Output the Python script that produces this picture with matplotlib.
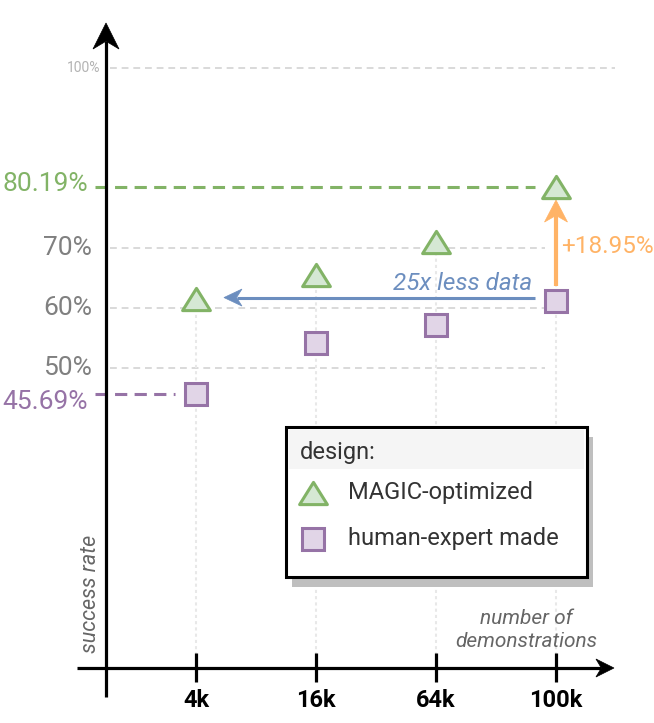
import matplotlib.pyplot as plt
import numpy as np
from matplotlib.patches import Polygon, Rectangle
from matplotlib.path import Path

plt.rcParams['font.family'] = ['Roboto', 'DejaVu Sans']

demos = ['4k', '16k', '64k', '100k']
magic = [61.5, 65.5, 71.0, 80.19]     # MAGIC-optimized
human = [45.69, 54.2, 57.2, 61.24]    # human-expert made
grid_levels = [50, 60, 70]
top_level = 100

GREEN, GREEN_FILL = '#82b366', '#d5e8d4'
PURPLE, PURPLE_FILL = '#9673a6', '#e1d5e7'
BLUE = '#6c8ebf'
ORANGE = '#ffb366'
GRAY = '#808080'

W, H = 654, 723
fig = plt.figure(figsize=(W / 100, H / 100), dpi=100)
ax = fig.add_axes([0, 0, 1, 1])
# 120 px per category, 6 px per percent, 0% sits on the x axis
ax.set_xlim(-196 / 120, (W - 196) / 120)
ax.set_ylim(-(H - 668) / 6, 668 / 6)
ax.axis('off')
x = np.arange(len(demos))


def pix(px, py):
    return px / W, 1 - py / H


def arrow(x0, y0, x1, y1, color, lw, hl, hw, notch=0.3, z=5):
    # shaft + notched head, head sizes in pixels
    p0 = ax.transData.transform((x0, y0))
    p1 = ax.transData.transform((x1, y1))
    d = (p1 - p0) / np.hypot(*(p1 - p0))
    n = np.array([-d[1], d[0]])
    base = p1 - d * hl
    back = p1 - d * hl * (1 - notch)
    pts = ax.transData.inverted().transform([p1, base + n * hw / 2, back, base - n * hw / 2])
    end = ax.transData.inverted().transform(back)
    ax.plot([x0, end[0]], [y0, end[1]], color=color, lw=lw, solid_capstyle='butt', zorder=z)
    ax.add_patch(Polygon(pts, closed=True, fc=color, ec=color, lw=0.5, zorder=z))


tri = Path([(-1, -0.8), (1, -0.8), (0, 0.8), (-1, -0.8)], closed=True)

# grid
for lv in grid_levels:
    ax.plot([-0.717, 2.908], [lv, lv], color='#d9d9d9', lw=1.4, dashes=(3.5, 2.5), zorder=1)
    ax.text(-0.867, lv, f'{lv}%', ha='right', va='center', fontsize=19, color=GRAY)
ax.plot([-0.717, 3.49], [top_level, top_level], color='#d9d9d9', lw=1.4, dashes=(3.5, 2.5), zorder=1)
ax.text(-0.8, top_level, f'{top_level}%', ha='right', va='center', fontsize=10, color='#b3b3b3')
for xi, m in zip(x, magic):
    ax.plot([xi, xi], [0, m], color='#e8e8e8', lw=1.5, dashes=(1.5, 1.5), zorder=1)

# highlighted levels
ax.plot([-0.842, 2.825], [magic[-1]] * 2, color=GREEN, lw=2.2, dashes=(4, 2.4), zorder=2)
ax.text(-0.9, magic[-1] + 0.4, f'{magic[-1]:.2f}%', ha='right', va='center', fontsize=19, color=GREEN)
ax.plot([-0.842, -0.175], [human[0]] * 2, color=PURPLE, lw=2.2, dashes=(4, 2.4), zorder=2)
ax.text(-0.9, human[0] - 1.4, f'{human[0]:.2f}%', ha='right', va='center', fontsize=19, color=PURPLE)

# markers
ax.plot(x, magic, ls='none', marker=tri, ms=20, mfc=GREEN_FILL, mec=GREEN, mew=2.2, zorder=6)
ax.plot(x, human, ls='none', marker='s', ms=16, mfc=PURPLE_FILL, mec=PURPLE, mew=2.2, zorder=6)

# annotations
blue_y = human[-1] + 0.5
arrow(2.825, blue_y, 0.233, blue_y, BLUE, lw=2.2, hl=18, hw=17)
ax.text(2.805, blue_y + 2.4, '25x less data', ha='right', va='center', style='italic',
        fontsize=17.5, color=BLUE)
arrow(3, human[-1] + 2.4, 3, magic[-1] - 2.2, ORANGE, lw=3, hl=22, hw=23)
ax.text(3.04, 70.2, f'+{magic[-1] - human[-1]:.2f}%', ha='left', va='center',
        fontsize=17.5, color=ORANGE)

# axes
arrow(-0.75, -4.83, -0.75, 107.5, 'black', lw=2.3, hl=26, hw=26)
arrow(-0.992, 0, 3.483, 0, 'black', lw=2.3, hl=18, hw=18)
for xi, lab in zip(x, demos):
    ax.plot([xi, xi], [-2.33, 2.5], color='black', lw=2.3, solid_capstyle='butt', zorder=5)
    ax.text(xi, -5.4, lab, ha='center', va='center', fontsize=17, fontweight='bold')

ax.text(*pix(526, 630), 'number of\ndemonstrations', transform=ax.transAxes, ha='center',
        va='center', style='italic', fontsize=15, color='#666666', linespacing=1.25)
ax.text(*pix(90, 594), 'success rate', transform=ax.transAxes, ha='center', va='center',
        rotation=90, style='italic', fontsize=15.5, color='#666666')

# legend box
x0, y0 = pix(286, 577)
x1, y1 = pix(587, 427)
ax.add_patch(Rectangle((x0 + 6 / W, y0 - 10 / H), x1 - x0, y1 - y0, transform=ax.transAxes,
                       fc='#bfbfbf', ec='none', zorder=7))
ax.add_patch(Rectangle((x0, y0), x1 - x0, y1 - y0, transform=ax.transAxes,
                       fc='white', ec='black', lw=2.2, zorder=8))
bx0, by0 = pix(289, 469)
bx1, by1 = pix(584, 430)
ax.add_patch(Rectangle((bx0, by0), bx1 - bx0, by1 - by0, transform=ax.transAxes,
                       fc='#f5f5f5', ec='none', zorder=9))
ax.text(*pix(300, 452), 'design:', transform=ax.transAxes, ha='left', va='center',
        fontsize=17, color='#333333', zorder=10)
ax.plot(*pix(313, 493), transform=ax.transAxes, marker=tri, ms=20, mfc=GREEN_FILL,
        mec=GREEN, mew=2.2, zorder=10)
ax.text(*pix(348, 493), 'MAGIC-optimized', transform=ax.transAxes, ha='left', va='center',
        fontsize=17, color='#333333', zorder=10)
ax.plot(*pix(313, 539), transform=ax.transAxes, marker='s', ms=16, mfc=PURPLE_FILL,
        mec=PURPLE, mew=2.2, zorder=10)
ax.text(*pix(348, 539), 'human-expert made', transform=ax.transAxes, ha='left', va='center',
        fontsize=17, color='#333333', zorder=10)

fig.savefig('out.png', dpi=100)
